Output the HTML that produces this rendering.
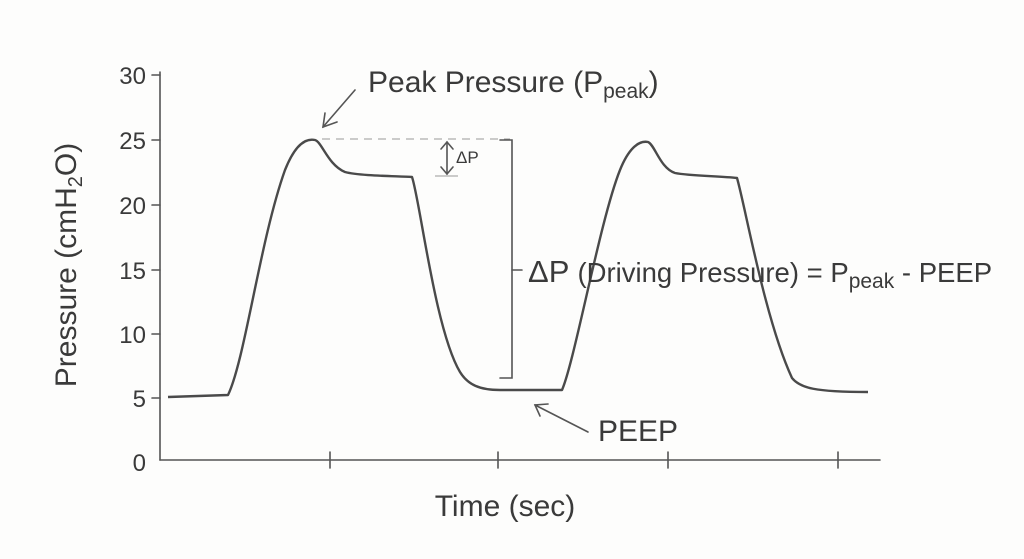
<!DOCTYPE html>
<html><head><style>
html,body{margin:0;padding:0;background:#fdfdfc;}
svg{display:block;}
text{font-family:"Liberation Sans",sans-serif;fill:#3a3a3a;}
</style></head><body>
<svg width="1024" height="559" viewBox="0 0 1024 559" xmlns="http://www.w3.org/2000/svg">
<rect width="1024" height="559" fill="#fdfdfc"/>
<g stroke="#555" stroke-width="1.6" fill="none" stroke-linecap="round">
<line x1="160" y1="72" x2="160" y2="460"/>
<line x1="160" y1="460" x2="880" y2="460"/>
<line x1="152" y1="75" x2="160" y2="75"/>
<line x1="152" y1="140" x2="160" y2="140"/>
<line x1="152" y1="205" x2="160" y2="205"/>
<line x1="152" y1="270" x2="160" y2="270"/>
<line x1="152" y1="334" x2="160" y2="334"/>
<line x1="152" y1="398" x2="160" y2="398"/>
<line x1="330" y1="452" x2="330" y2="468"/>
<line x1="498" y1="452" x2="498" y2="468"/>
<line x1="668" y1="452" x2="668" y2="468"/>
<line x1="838" y1="452" x2="838" y2="468"/>
</g>
<g font-size="24" text-anchor="end">
<text x="146" y="84">30</text>
<text x="146" y="149">25</text>
<text x="146" y="214">20</text>
<text x="146" y="279">15</text>
<text x="146" y="343">10</text>
<text x="146" y="407">5</text>
<text x="146" y="471">0</text>
</g>
<text transform="translate(76,265) rotate(-90)" font-size="30" text-anchor="middle">Pressure (cmH<tspan font-size="20" dy="6">2</tspan><tspan dy="-6">O)</tspan></text>
<text x="505" y="516" font-size="30" text-anchor="middle">Time (sec)</text>
<path d="M168,397 L228,395 C245,360 260,240 285,170 C295,145 305,138 315,140 C322,142 328,165 345,172 C360,176 395,176 412,177 C420,200 435,330 460,372 C468,385 480,390 500,390 L562,390 C575,360 600,220 620,170 C628,150 638,140 648,142 C655,145 660,168 675,173 C690,176 720,176 737,178 C745,205 765,320 792,378 C800,388 815,392 868,392" fill="none" stroke="#4a4a4a" stroke-width="2.4" stroke-linejoin="round"/>
<line x1="322" y1="139" x2="510" y2="139" stroke="#999" stroke-width="1" stroke-dasharray="8,6"/>
<line x1="435" y1="176" x2="458" y2="176" stroke="#999" stroke-width="1"/>
<g stroke="#555" stroke-width="1.6" fill="none" stroke-linecap="round">
<line x1="447" y1="142" x2="447" y2="174"/>
<polyline points="441,149 447,142 453,149"/>
<polyline points="441,167 447,174 453,167"/>
<polyline points="500,140 512,140 512,378 500,378"/>
<line x1="512" y1="270" x2="522" y2="270"/>
<line x1="355" y1="90" x2="323" y2="127"/>
<polyline points="325,113 323,127 337,122"/>
<line x1="588" y1="432" x2="535" y2="405"/>
<polyline points="540,416 535,405 548,404"/>
</g>
<text x="368" y="92" font-size="30">Peak Pressure (P<tspan font-size="21" dy="6">peak</tspan><tspan dy="-6">)</tspan></text>
<text x="456" y="163" font-size="17">ΔP</text>
<text x="528" y="282" font-size="31">ΔP <tspan font-size="27.5">(Driving Pressure) = P</tspan><tspan font-size="21" dy="6">peak</tspan><tspan font-size="27.5" dy="-6"> - PEEP</tspan></text>
<text x="598" y="441" font-size="30">PEEP</text>
</svg>
</body></html>
